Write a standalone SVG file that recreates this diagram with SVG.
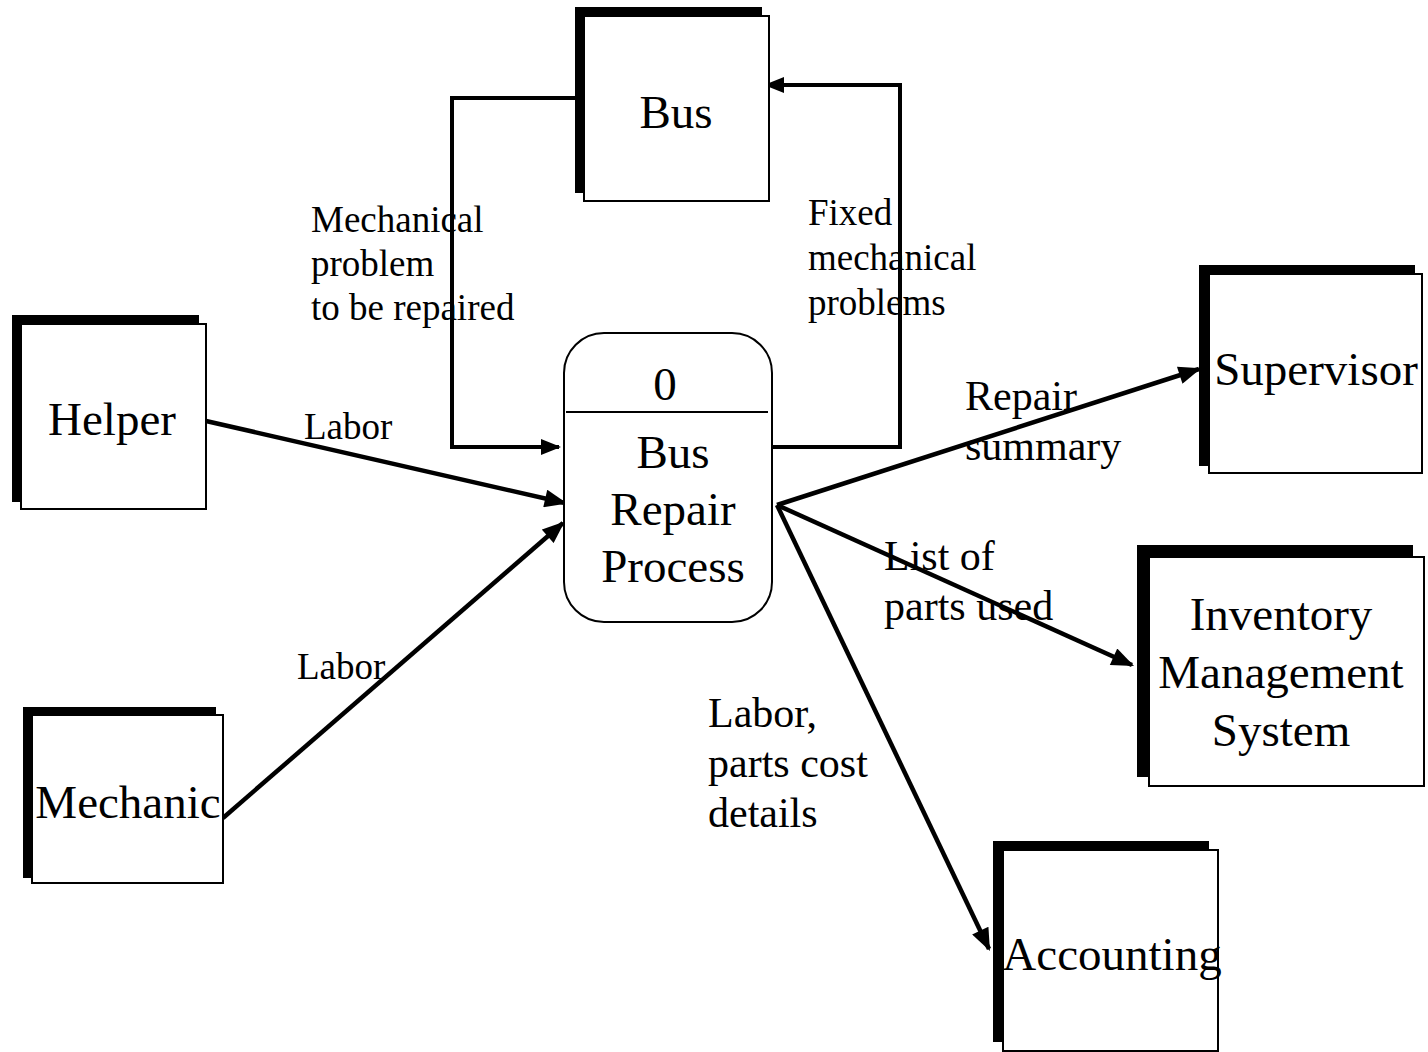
<svg xmlns="http://www.w3.org/2000/svg" width="1428" height="1052" viewBox="0 0 1428 1052">
<style>
.shadow{fill:#000;stroke:none}
.box{fill:#fff;stroke:#000;stroke-width:2}
.big{font-family:"Liberation Serif","Times New Roman",serif;font-size:47px;fill:#000;text-anchor:middle}
.lbl{font-family:"Liberation Serif","Times New Roman",serif;font-size:37px;fill:#000}
.lbl2{font-family:"Liberation Serif","Times New Roman",serif;font-size:42px;fill:#000}
.flow{fill:none;stroke:#000;stroke-width:4.5;marker-end:url(#ah)}
.loop{fill:none;stroke:#000;stroke-width:4;marker-end:url(#ahs)}
</style>
<defs>
<marker id="ah" viewBox="0 0 10 8" refX="9" refY="4" markerWidth="24" markerHeight="18" markerUnits="userSpaceOnUse" orient="auto">
<path d="M0,0 L10,4 L0,8 Z" fill="#000"/>
</marker>
<marker id="ahs" viewBox="0 0 10 8" refX="9" refY="4" markerWidth="20" markerHeight="16" markerUnits="userSpaceOnUse" orient="auto">
<path d="M0,0 L10,4 L0,8 Z" fill="#000"/>
</marker>
</defs>
<rect width="1428" height="1052" fill="#fff"/>
<g id="connectors">
<polyline class="loop" points="575,98 452,98 452,447 559,447"/>
<polyline class="loop" points="772,447 900,447 900,85 766,85"/>
<line class="flow" x1="206" y1="421" x2="565" y2="503"/>
<line class="flow" x1="223" y1="818" x2="563" y2="523"/>
<line class="flow" x1="777" y1="505" x2="1199" y2="369"/>
<line class="flow" x1="777" y1="505" x2="1132" y2="665"/>
<line class="flow" x1="777" y1="505" x2="989" y2="949"/>
</g>
<g id="bus">
<rect class="shadow" x="575" y="7" width="187" height="186"/>
<rect class="box" x="584" y="16" width="185" height="185"/>
<text class="big" x="676" y="128">Bus</text>
</g>
<g id="helper">
<rect class="shadow" x="12" y="315" width="187" height="187"/>
<rect class="box" x="21" y="324" width="185" height="185"/>
<text class="big" x="112" y="435">Helper</text>
</g>
<g id="mechanic">
<rect class="shadow" x="23" y="707" width="193" height="171"/>
<rect class="box" x="32" y="715" width="191" height="168"/>
<text class="big" x="128" y="818">Mechanic</text>
</g>
<g id="supervisor">
<rect class="shadow" x="1199" y="265" width="216" height="201"/>
<rect class="box" x="1209" y="274" width="213" height="199"/>
<text class="big" x="1316" y="385">Supervisor</text>
</g>
<g id="inventory">
<rect class="shadow" x="1137" y="545" width="276" height="232"/>
<rect class="box" x="1149" y="557" width="275" height="229"/>
<text class="big" x="1281" y="630">Inventory</text>
<text class="big" x="1281" y="688">Management</text>
<text class="big" x="1281" y="746">System</text>
</g>
<g id="accounting">
<rect class="shadow" x="993" y="841" width="216" height="201"/>
<rect class="box" x="1003" y="850" width="215" height="201"/>
<text class="big" x="1112" y="970">Accounting</text>
</g>
<g id="process">
<rect class="box" x="564" y="333" width="208" height="289" rx="40" ry="40"/>
<line x1="566" y1="412" x2="768" y2="412" stroke="#000" stroke-width="2"/>
<text class="big" x="665" y="400">0</text>
<text class="big" x="673" y="468">Bus</text>
<text class="big" x="673" y="525">Repair</text>
<text class="big" x="673" y="582">Process</text>
</g>
<g id="labels">
<text class="lbl" x="311" y="232">Mechanical</text>
<text class="lbl" x="311" y="276">problem</text>
<text class="lbl" x="311" y="320">to be repaired</text>
<text class="lbl" x="808" y="225">Fixed</text>
<text class="lbl" x="808" y="270">mechanical</text>
<text class="lbl" x="808" y="315">problems</text>
<text class="lbl" x="304" y="439">Labor</text>
<text class="lbl" x="297" y="679">Labor</text>
<text class="lbl2" x="965" y="410">Repair</text>
<text class="lbl2" x="965" y="460">summary</text>
<text class="lbl2" x="884" y="570">List of</text>
<text class="lbl2" x="884" y="620">parts used</text>
<text class="lbl2" x="708" y="727">Labor,</text>
<text class="lbl2" x="708" y="777">parts cost</text>
<text class="lbl2" x="708" y="827">details</text>
</g>
</svg>
